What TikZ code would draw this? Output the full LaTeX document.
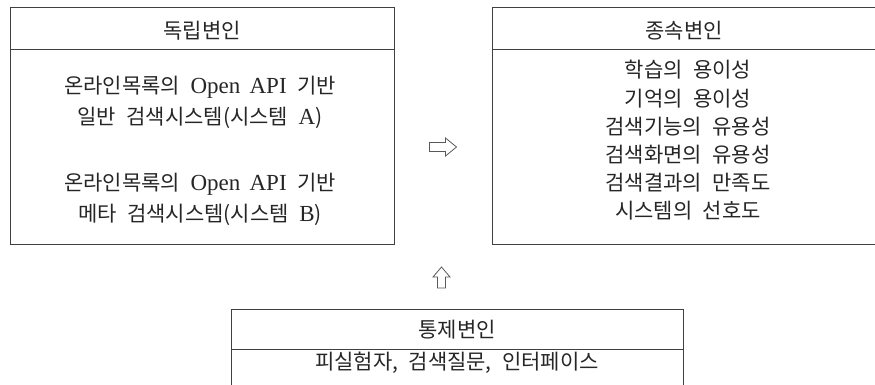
\documentclass[tikz,border=0pt]{standalone}
\usepackage{fontspec}
\setmainfont{Noto Sans CJK KR}[WordSpace=2.2]
\newfontfamily\latinserif{Liberation Serif}[WordSpace=1.6]
\newcommand{\lat}[1]{{\latinserif\fontsize{23}{31}\selectfont #1}}
\begin{document}
\begin{tikzpicture}[x=1pt,y=1pt,
  boxpart/.style={draw=black!75, line width=1pt, rectangle, inner sep=0pt},
  txt/.style={text=black!85, align=center, inner sep=0pt, font=\fontsize{21}{28.2}\selectfont},
  blockarrow/.style={draw=black!65, line width=0.8pt, fill=white, line join=miter}
]
\useasboundingbox (0,0) rectangle (875,-385);
% left box
\node[boxpart, minimum width=384, minimum height=42] (indephead) at (202,-29) {};
\node[boxpart, minimum width=384, minimum height=194] (indepbody) at (202,-147) {};
\node[txt] (indeptitle) at ([yshift=-1.5pt]indephead.center) {독립변인};
\node[txt, font=\fontsize{21}{31}\selectfont] (indeptext) at (200,-150.5)
  {온라인목록의 \lat{Open API} 기반\\
   일반 검색시스템(시스템 \lat{A})\\[35pt]
   온라인목록의 \lat{Open API} 기반\\
   메타 검색시스템(시스템 \lat{B})};
% right box
\node[boxpart, minimum width=384, minimum height=42] (dephead) at (684,-29) {};
\node[boxpart, minimum width=384, minimum height=194] (depbody) at (684,-147) {};
\node[txt] (deptitle) at ([yshift=-1.5pt]dephead.center) {종속변인};
\node[txt] (deptext) at (688,-140.5)
  {학습의 용이성\\기억의 용이성\\검색기능의 유용성\\검색화면의 유용성\\검색결과의 만족도\\시스템의 선호도};
% bottom box
\node[boxpart, minimum width=452, minimum height=40] (ctrlhead) at (457,-329) {};
\node[boxpart, minimum width=452, minimum height=71] (ctrlbody) at (457,-384.5) {};
\node[txt] (ctrltitle) at ([yshift=-1pt]ctrlhead.center) {통제변인};
\node[txt] (ctrltext) at (457,-363) {피실험자, 검색질문, 인터페이스};
% arrows
\coordinate (rarrow) at (443,-147);
\coordinate (uarrow) at (441.5,-277.5);
\draw[blockarrow, shift={(rarrow)}] (-13.5,4.5) -- (2.5,4.5) -- (2.5,9) -- (13.5,0) -- (2.5,-9) -- (2.5,-4.5) -- (-13.5,-4.5) -- cycle;
\draw[blockarrow, shift={(uarrow)}] (-4,-10.5) -- (-4,0.5) -- (-8.5,0.5) -- (0,10.5) -- (8.5,0.5) -- (4,0.5) -- (4,-10.5) -- cycle;
\end{tikzpicture}
\end{document}
